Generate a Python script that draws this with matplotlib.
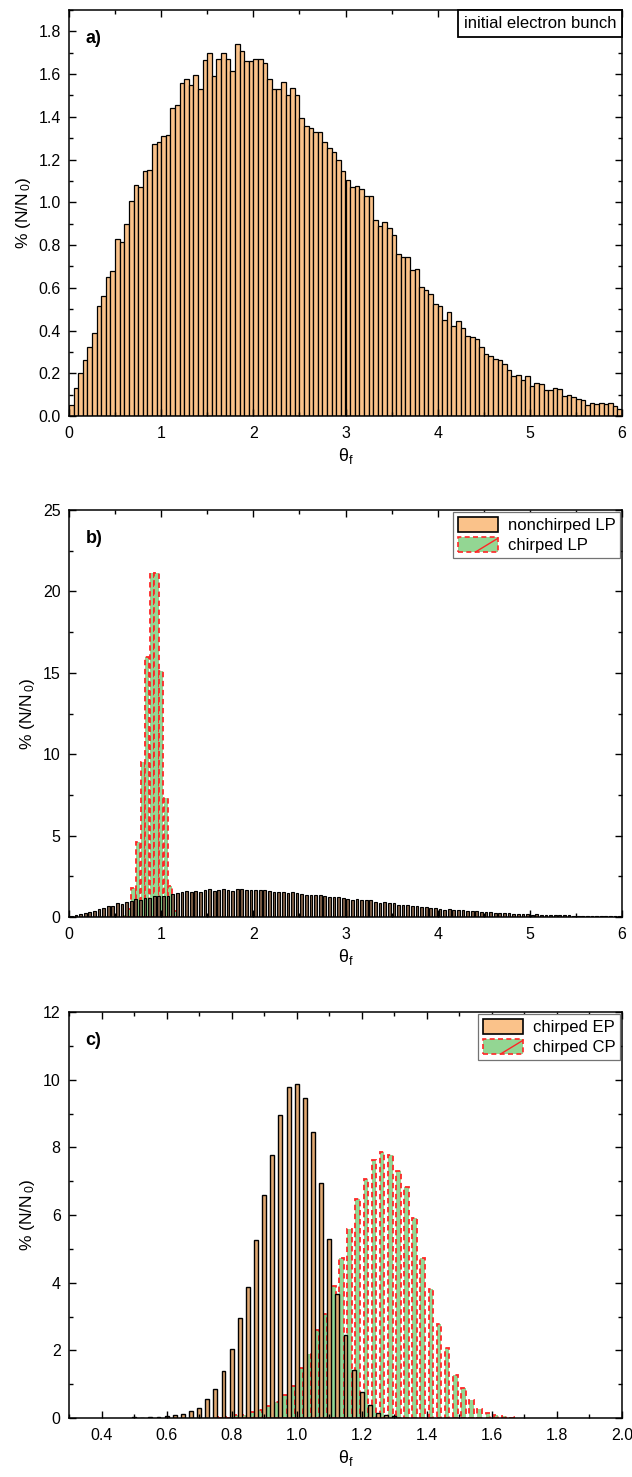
import numpy as np
import matplotlib

matplotlib.use("Agg")
import matplotlib.pyplot as plt
from matplotlib.patches import Patch, Rectangle
from matplotlib.lines import Line2D
from matplotlib.legend_handler import HandlerPatch
from matplotlib.offsetbox import AnchoredText
from matplotlib.ticker import MultipleLocator, FormatStrFormatter

plt.rcParams["font.family"] = ["Liberation Sans", "DejaVu Sans"]
plt.rcParams["mathtext.default"] = "regular"

ORANGE = "#FAC28A"
GREEN = "#93D693"
RED = "#FF2626"

# panel a (and nonchirped LP in panel b): 0.05 wide bins over 0..6
bin_width = 0.05
initial_pct = [
    0.05, 0.13, 0.20, 0.26, 0.325, 0.39, 0.515, 0.56, 0.65, 0.68, 0.83, 0.815, 0.90, 1.005,
    1.08, 1.07, 1.145, 1.15, 1.275, 1.28, 1.31, 1.315, 1.44, 1.455,
    1.56, 1.575, 1.55, 1.595, 1.53, 1.665, 1.70, 1.59, 1.67, 1.70,
    1.67, 1.615, 1.74, 1.71, 1.66, 1.66, 1.67, 1.67, 1.65, 1.575,
    1.53, 1.53, 1.565, 1.50, 1.535, 1.50, 1.395, 1.355, 1.35, 1.33,
    1.33, 1.28, 1.255, 1.235, 1.20, 1.145, 1.105, 1.07, 1.075, 1.06, 1.03, 1.03,
    0.915, 0.89, 0.91, 0.88, 0.845, 0.76, 0.745, 0.745, 0.685, 0.69,
    0.605, 0.59, 0.57, 0.525, 0.515, 0.45, 0.485, 0.42, 0.445, 0.41,
    0.375, 0.37, 0.36, 0.325, 0.29, 0.28, 0.265, 0.26, 0.245, 0.215,
    0.185, 0.19, 0.17, 0.185, 0.14, 0.155, 0.15, 0.12, 0.12, 0.13,
    0.125, 0.095, 0.10, 0.09, 0.08, 0.075, 0.05, 0.06, 0.055, 0.06,
    0.055, 0.06, 0.045, 0.035,
]

# panel b: chirped LP
chirped_lp_theta = [0.60, 0.65, 0.70, 0.75, 0.80, 0.85, 0.90, 0.95, 1.00, 1.05, 1.10, 1.15]
chirped_lp_pct = [0.1, 0.5, 1.8, 4.6, 9.5, 16.0, 21.1, 21.1, 15.1, 7.3, 1.9, 0.35]

# panel c: chirped EP / chirped CP, 0.025 spacing
ep_theta = np.round(0.5 + 0.025 * np.arange(33), 4)
ep_pct = [
    0.03, 0.0, 0.02, 0.04, 0.06, 0.08, 0.12, 0.20, 0.30, 0.55, 0.85,
    1.40, 2.05, 2.95, 3.87, 5.27, 6.58, 7.78, 8.97, 9.79, 9.87, 9.45,
    8.46, 6.95, 5.29, 3.67, 2.44, 1.41, 0.77, 0.37, 0.15, 0.08, 0.05,
]
cp_theta = np.round(0.7625 + 0.025 * np.arange(37), 4)
cp_pct = [
    0.03, 0.03, 0.08, 0.10, 0.17, 0.23, 0.34, 0.47, 0.69, 0.96,
    1.47, 1.88, 2.59, 3.08, 3.89, 4.72, 5.59, 6.48, 7.05, 7.63,
    7.86, 7.77, 7.31, 6.84, 5.92, 4.73, 3.82, 2.77, 2.08, 1.28,
    0.90, 0.54, 0.28, 0.15, 0.10, 0.05, 0.03,
]


class HatchedHandler(HandlerPatch):
    def create_artists(self, legend, orig_handle, xdescent, ydescent, width, height, fontsize, trans):
        x0, y0 = -xdescent, -ydescent
        rect = Rectangle((x0, y0), width, height, facecolor=GREEN, edgecolor=RED,
                         linestyle=(0, (3, 2)), linewidth=1.2, transform=trans)
        line = Line2D([x0 + 0.45 * width, x0 + width], [y0, y0 + 0.9 * height],
                      color=RED, lw=1.0, transform=trans)
        return [rect, line]


def style_axis(ax, label):
    ax.tick_params(which="both", direction="in", top=True, right=True, labelsize=11.5, width=1)
    ax.tick_params(which="major", length=5)
    ax.tick_params(which="minor", length=3)
    ax.tick_params(axis="x", which="both", pad=7)
    ax.tick_params(axis="y", which="both", pad=6)
    for sp in ax.spines.values():
        sp.set_linewidth(1.1)
    ax.set_xlabel(r"$\theta_f$", fontsize=13, labelpad=4)
    ax.set_ylabel(r"% (N/N$_{\,0}$)", fontsize=12.5, labelpad=4)
    ax.text(0.03, 0.95, label, transform=ax.transAxes, fontsize=13, fontweight="bold",
            ha="left", va="top")


def add_legend(ax, labels):
    plain = Patch(facecolor=ORANGE, edgecolor="black", linewidth=1.2)
    hatched = Patch(facecolor=GREEN, edgecolor=RED)
    leg = ax.legend([plain, hatched], labels, handler_map={hatched: HatchedHandler()},
                    loc="upper right", borderaxespad=0.1, fancybox=False, framealpha=1,
                    edgecolor="0.45", fontsize=12, handlelength=2.4, handleheight=1.0,
                    labelspacing=0.25, borderpad=0.3, handletextpad=0.6)
    leg.get_frame().set_linewidth(0.9)


fig = plt.figure(figsize=(6.32, 14.77), dpi=100)
H = 1477.0
W = 632.0
left = 69 / W
width = (622 - 69) / W

# ---- panel a
ax_a = fig.add_axes([left, 1 - 416 / H, width, (416 - 10) / H])
edges = np.arange(len(initial_pct)) * bin_width
ax_a.bar(edges, initial_pct, width=bin_width, align="edge", color=ORANGE,
         edgecolor="black", linewidth=0.9)
ax_a.set_xlim(0, 6)
ax_a.set_ylim(0, 1.9)
ax_a.xaxis.set_major_locator(MultipleLocator(1))
ax_a.xaxis.set_minor_locator(MultipleLocator(0.5))
ax_a.yaxis.set_major_locator(MultipleLocator(0.2))
ax_a.yaxis.set_minor_locator(MultipleLocator(0.1))
ax_a.yaxis.set_major_formatter(FormatStrFormatter("%.1f"))
style_axis(ax_a, "a)")
box = AnchoredText("initial electron bunch", loc="upper right", prop=dict(size=12),
                   frameon=True, pad=0.35, borderpad=0.0)
box.patch.set_boxstyle("square,pad=0")
box.patch.set_edgecolor("black")
box.patch.set_linewidth(1.3)
ax_a.add_artist(box)

# ---- panel b
ax_b = fig.add_axes([left, 1 - 917 / H, width, (917 - 510) / H])
ax_b.bar(chirped_lp_theta, chirped_lp_pct, width=0.045, color=GREEN, edgecolor=RED,
         linestyle=(0, (3, 2)), linewidth=1.3)
centers = edges + bin_width / 2
ax_b.bar(centers, initial_pct, width=0.03, color="#7a5c44", edgecolor="black", linewidth=0.8)
ax_b.set_xlim(0, 6)
ax_b.set_ylim(0, 25)
ax_b.xaxis.set_major_locator(MultipleLocator(1))
ax_b.xaxis.set_minor_locator(MultipleLocator(0.5))
ax_b.yaxis.set_major_locator(MultipleLocator(5))
ax_b.yaxis.set_minor_locator(MultipleLocator(2.5))
style_axis(ax_b, "b)")
add_legend(ax_b, ["nonchirped LP", "chirped LP"])

# ---- panel c
ax_c = fig.add_axes([left, 1 - 1418 / H, width, (1418 - 1012) / H])
ax_c.bar(cp_theta, cp_pct, width=0.014, color=GREEN, edgecolor=RED,
         linestyle=(0, (3, 2)), linewidth=1.3)
ax_c.bar(ep_theta, ep_pct, width=0.012, color="#E0A872", edgecolor="black", linewidth=1.0)
ax_c.set_xlim(0.3, 2.0)
ax_c.set_ylim(0, 12)
ax_c.xaxis.set_major_locator(MultipleLocator(0.2))
ax_c.xaxis.set_minor_locator(MultipleLocator(0.1))
ax_c.yaxis.set_major_locator(MultipleLocator(2))
ax_c.yaxis.set_minor_locator(MultipleLocator(1))
ax_c.xaxis.set_major_formatter(FormatStrFormatter("%.1f"))
style_axis(ax_c, "c)")
add_legend(ax_c, ["chirped EP", "chirped CP"])

fig.savefig("out.png", dpi=100)
